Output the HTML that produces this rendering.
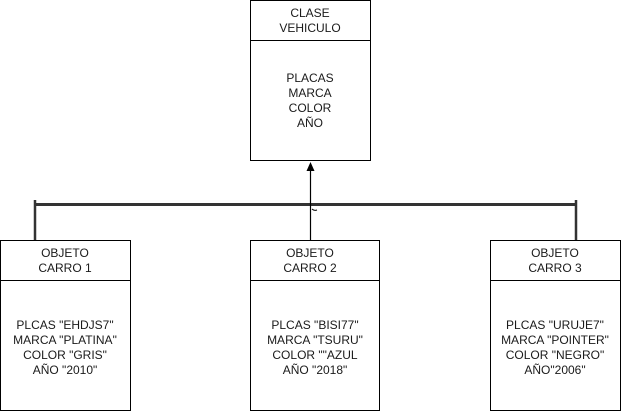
<!DOCTYPE html>
<html><head><meta charset="utf-8"><style>
html,body{margin:0;padding:0;background:#fff;}
svg text{font-family:"Liberation Sans",Arial,sans-serif;font-size:12px;fill:#1a1a1a;text-anchor:middle;}
</style></head><body>
<svg width="621" height="411" viewBox="0 0 621 411" xmlns="http://www.w3.org/2000/svg">
<g fill="#fff" stroke="#000" stroke-width="1">
<rect x="250.5" y="0.5" width="120" height="160"/>
<line x1="250" y1="40.5" x2="371" y2="40.5"/>
<rect x="0.5" y="240.5" width="130" height="170"/>
<line x1="0" y1="280.5" x2="131" y2="280.5"/>
<rect x="250.5" y="240.5" width="129" height="170"/>
<line x1="250" y1="280.5" x2="380" y2="280.5"/>
<rect x="490.5" y="240.5" width="130" height="170"/>
<line x1="490" y1="280.5" x2="621" y2="280.5"/>
</g>
<g stroke="#333" fill="none">
<line x1="35" y1="204.5" x2="576" y2="204.5" stroke-width="3"/>
<line x1="35" y1="200" x2="35" y2="240" stroke-width="2.5"/>
<line x1="576" y1="200" x2="576" y2="240" stroke-width="2.5"/>
<line x1="310.5" y1="240" x2="310.5" y2="170" stroke="#000" stroke-width="1.2"/>
<path d="M312 209 q2 2 5 1" stroke="#000" stroke-width="1"/>
</g>
<polygon points="310.5,162 306.5,171 314.5,171" fill="#000"/>
<text x="310" y="17">CLASE</text>
<text x="310" y="32">VEHICULO</text>
<text x="310" y="82">PLACAS</text>
<text x="310" y="97">MARCA</text>
<text x="310" y="112">COLOR</text>
<text x="310" y="127">AÑO</text>
<text x="65" y="257">OBJETO</text>
<text x="65" y="272">CARRO 1</text>
<text x="65" y="329">PLCAS "EHDJS7"</text>
<text x="65" y="344">MARCA "PLATINA"</text>
<text x="65" y="359">COLOR "GRIS"</text>
<text x="65" y="374">AÑO "2010"</text>
<text x="310" y="257">OBJETO</text>
<text x="310" y="272">CARRO 2</text>
<text x="315" y="329">PLCAS "BISI77"</text>
<text x="315" y="344">MARCA "TSURU"</text>
<text x="315" y="359">COLOR ""AZUL</text>
<text x="315" y="374">AÑO "2018"</text>
<text x="555" y="257">OBJETO</text>
<text x="555" y="272">CARRO 3</text>
<text x="555" y="329">PLCAS "URUJE7"</text>
<text x="555" y="344">MARCA "POINTER"</text>
<text x="555" y="359">COLOR "NEGRO"</text>
<text x="555" y="374">AÑO"2006"</text>
</svg>
</body></html>
